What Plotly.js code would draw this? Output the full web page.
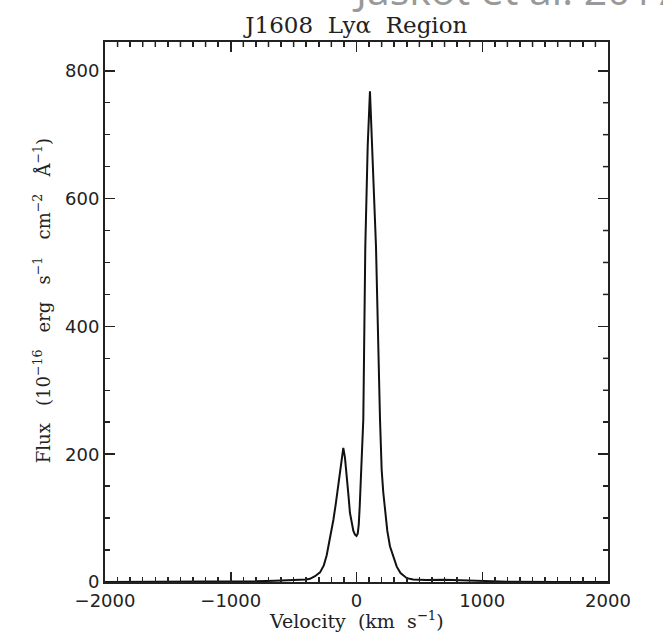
<!DOCTYPE html>
<html>
<head>
<meta charset="utf-8">
<script src="https://cdn.plot.ly/plotly-3.0.1.min.js"></script>
<style>html,body{margin:0;padding:0;background:#fff;}#chart{width:663px;height:638px;}</style>
</head>
<body>
<div id="chart"></div>
<script>
// Velocity (km/s) and flux (1e-16 erg/s/cm^2/A)
const velocity = [-2000, -1500, -1000, -800, -650, -550, -450, -400, -370, -330, -290, -260, -237, -210, -184, -165, -145, -125, -105, -92, -78, -65, -52, -38, -25, -12, 0, 10, 18, 26, 33, 46, 54, 70, 89, 107, 126, 155, 187, 200, 213, 227, 245, 266, 290, 320, 350, 400, 450, 550, 700, 850, 950, 1200, 1600, 2000];
const flux = [0, 0, 0.5, 1, 2, 3, 3, 4, 5, 9, 15, 26, 42, 68, 97, 122, 152, 185, 210, 195, 170, 138, 108, 90, 80, 74, 72, 76, 90, 120, 150, 228, 254, 525, 682, 768, 682, 525, 254, 176, 140, 108, 80, 56, 40, 24, 14, 6, 4, 3, 3.5, 2.5, 1, 0.5, 0, 0];
const xTickVals = [-2000, -1000, 0, 1000, 2000];
const xTickText = ['\u22122000', '\u22121000', '0', '1000', '2000'];
const yTickVals = [0, 200, 400, 600, 800];
const yTickText = ['0', '200', '400', '600', '800'];
const titleText = 'J1608&nbsp; Ly\u03b1&nbsp; Region';
const xTitle = 'Velocity&nbsp; (km&nbsp; s<sup>\u22121</sup>)';
const yTitle = '&nbsp;&nbsp;&nbsp;&nbsp;Flux&nbsp;&nbsp; (10<sup>\u221216</sup>&nbsp;&nbsp; erg&nbsp;&nbsp; s<sup>\u22121</sup>&nbsp;&nbsp; cm<sup>\u22122</sup>&nbsp;&nbsp; \u00c5<sup>\u22121</sup>)';
const watermark = 'Jaskot et al. 2017';

const INK = '#222';
const xRange = [-2000, 2000];
const yRange = [0, 845];
const xMinorStep = 100;
const yMinorStep = 50;

const trace = {
  x: velocity, y: flux, type: 'scatter', mode: 'lines',
  line: {color: '#111', width: 2}, hoverinfo: 'skip'
};

const tickFont = {family: 'DejaVu Sans', size: 18, color: INK};

function baseAxis(extra) {
  return Object.assign({
    showline: true, linecolor: INK, linewidth: 2, mirror: 'allticks',
    ticks: 'inside', tickcolor: INK, tickwidth: 1.5, ticklen: 10,
    showgrid: false, zeroline: false, tickfont: tickFont
  }, extra);
}

const xMinor = {dtick: xMinorStep, tick0: 0, ticks: 'inside', ticklen: 5, tickwidth: 1.5, tickcolor: INK, showgrid: false};
const yMinor = {dtick: yMinorStep, tick0: 0, ticks: 'inside', ticklen: 5, tickwidth: 1.5, tickcolor: INK, showgrid: false};

// Minor ticks mirrored on the top and right frame edges (Plotly mirrors only major ticks)
const plotW = 663 - 105 - 55, plotH = 638 - 42 - 56, minorLen = 5;
const frameTicks = [];
for (let v = xRange[0] + xMinorStep; v < xRange[1]; v += xMinorStep) {
  if (xTickVals.includes(v)) continue;
  frameTicks.push({type: 'line', xref: 'x', yref: 'paper', x0: v, x1: v, y0: 1, y1: 1 - minorLen / plotH,
    line: {color: INK, width: 1.5}, layer: 'above'});
}
for (let v = yMinorStep; v < yRange[1]; v += yMinorStep) {
  if (yTickVals.includes(v)) continue;
  frameTicks.push({type: 'line', xref: 'paper', yref: 'y', x0: 1, x1: 1 - minorLen / plotW, y0: v, y1: v,
    line: {color: INK, width: 1.5}, layer: 'above'});
}

const layout = {
  width: 663, height: 638,
  margin: {l: 105, r: 55, t: 42, b: 56},
  paper_bgcolor: '#fff', plot_bgcolor: '#fff',
  showlegend: false,
  title: {
    text: titleText, font: {family: 'DejaVu Serif', size: 23, color: INK},
    x: 0.5375, xanchor: 'center', y: 1 - 25/638, yanchor: 'middle', yref: 'container'
  },
  xaxis: baseAxis({
    range: xRange, tickmode: 'array', tickvals: xTickVals, ticktext: xTickText,
    ticklabelstandoff: 1,
    minor: xMinor
  }),
  yaxis: baseAxis({
    range: yRange, tickmode: 'array', tickvals: yTickVals, ticktext: yTickText,
    minor: yMinor,
    title: {text: yTitle, font: {family: 'DejaVu Serif', size: 18, color: INK}, standoff: 10}
  }),
  shapes: frameTicks,
  annotations: [{
    text: xTitle, xref: 'paper', yref: 'paper',
    x: 0.5, xanchor: 'center', y: (582 - 620) / 540, yanchor: 'middle',
    showarrow: false, font: {family: 'DejaVu Serif', size: 19, color: INK}
  }, {
    text: watermark, xref: 'paper', yref: 'paper',
    x: (350 - 105) / 503, xanchor: 'left', y: (582 - 19.5) / 540, yanchor: 'bottom',
    showarrow: false, font: {family: 'Open Sans', size: 41, color: '#999'}
  }]
};

Plotly.newPlot('chart', [trace], layout, {displayModeBar: false, staticPlot: true});
</script>
</body>
</html>
